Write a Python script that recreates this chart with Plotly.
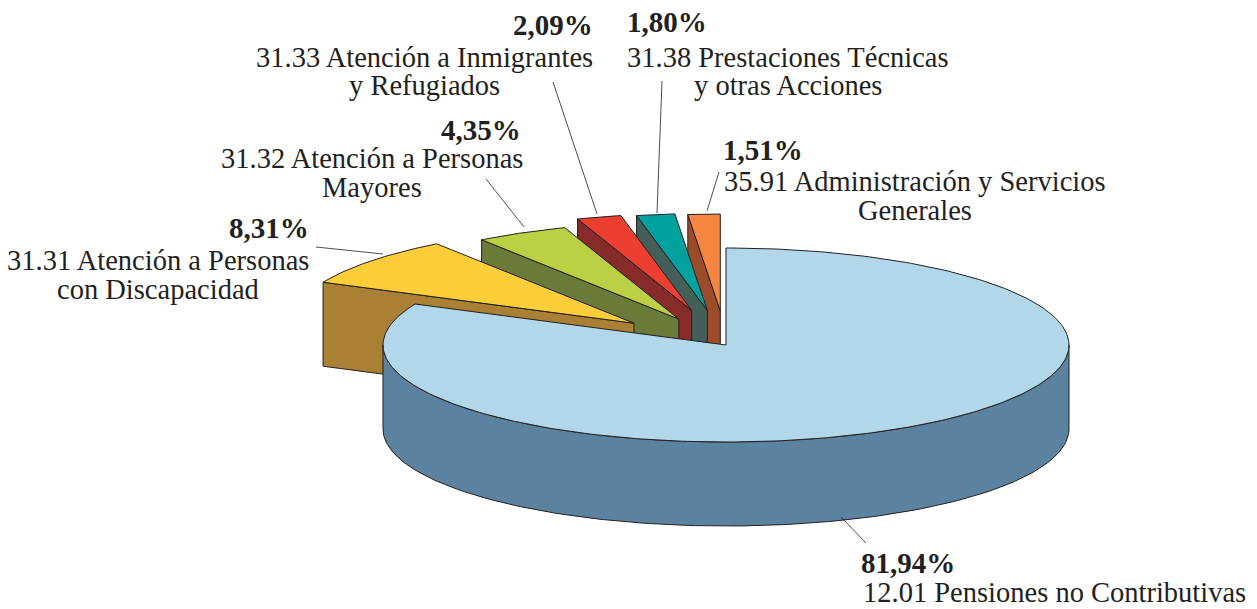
import numpy as np
import plotly.graph_objects as go

# ---- data ----
categories = ["12.01 Pensiones no Contributivas", "31.31 Atención a Personas con Discapacidad",
              "31.32 Atención a Personas Mayores", "31.33 Atención a Inmigrantes y Refugiados",
              "31.38 Prestaciones Técnicas y otras Acciones", "35.91 Administración y Servicios Generales"]
values = [81.94, 8.31, 4.35, 2.09, 1.80, 1.51]
top_colors = ["#B3D7EA", "#FDCD3A", "#BBD043", "#EC3E31", "#00A19E", "#F58642"]
side_colors = ["#5B829F", "#AA8134", "#6A7B39", "#872B2A", "#445F57", "#9C4B2B"]
label_lines = [["12.01 Pensiones no Contributivas"],
               ["31.31 Atención a Personas", "con Discapacidad"],
               ["31.32 Atención a Personas", "Mayores"],
               ["31.33 Atención a Inmigrantes", "y Refugiados"],
               ["31.38 Prestaciones Técnicas", "y otras Acciones"],
               ["35.91 Administración y Servicios", "Generales"]]

# ---- pie projection ----
CX, CY, RX, RY, DEPTH = 726, 345, 343, 97, 84
explode = [0.0, 0.35, 0.30, 0.37, 0.36, 0.35]
W, H = 1257, 609
EDGE = "#231F20"
FONT = "Liberation Serif"
TEXT = "#231F20"

# label layout: (centre x, centre y) of the percentage, then of each text line
pct_pos = [(908, 563), (269, 228), (481, 130), (553, 25), (667, 22), (763, 150)]
line_pos = [[(1054, 592)], [(158, 260), (158, 289)], [(372, 158), (372, 187)],
            [(424, 57), (424, 85)], [(788, 57), (788, 85)], [(915, 181), (915, 210)]]
leaders = [((841, 517), (866, 543)), ((316, 247), (383, 254)), ((486, 179), (524, 227)),
           ((553, 82), (597, 214)), ((662, 81), (657, 213)), ((719, 172), (707, 211))]


def point(theta, ox=0.0, oy=0.0):
    """Project an angle (degrees clockwise from 12 o'clock) on the pie ellipse."""
    t = np.radians(theta)
    return CX + ox + RX * np.sin(t), CY + oy - RY * np.cos(t)


def poly(xs, ys, fill):
    return go.Scatter(x=list(xs), y=list(ys), mode="lines", fill="toself", fillcolor=fill,
                      line=dict(color=EDGE, width=1), hoverinfo="skip", showlegend=False)


edges = np.concatenate([[0], np.cumsum(values) / sum(values) * 360])
fig = go.Figure()

# exploded slices, back to front
for i in range(len(values) - 1, 0, -1):
    a0, a1 = edges[i], edges[i + 1]
    mid = np.radians((a0 + a1) / 2)
    ox, oy = explode[i] * RX * np.sin(mid), -explode[i] * RY * np.cos(mid)
    ax, ay = CX + ox, CY + oy
    sx, sy = point(a0, ox, oy)
    fig.add_trace(poly([ax, sx, sx, ax, ax], [ay, sy, sy + DEPTH, ay + DEPTH, ay], side_colors[i]))
    arc = np.linspace(a0, a1, 40)
    px, py = point(arc, ox, oy)
    fig.add_trace(poly(np.r_[ax, px, ax], np.r_[ay, py, ay], top_colors[i]))

# main slice: wall and top
wall = np.linspace(90, 270, 160)
wx, wy = point(wall)
fig.add_trace(poly(np.r_[wx, wx[::-1], wx[0]], np.r_[wy, wy[::-1] + DEPTH, wy[0]], side_colors[0]))
arc = np.linspace(edges[0], edges[1], 300)
px, py = point(arc)
fig.add_trace(poly(np.r_[CX, px, CX], np.r_[CY, py, CY], top_colors[0]))

# leader lines
for (p, q) in leaders:
    fig.add_trace(go.Scatter(x=[p[0], q[0]], y=[p[1], q[1]], mode="lines",
                             line=dict(color=EDGE, width=0.8), hoverinfo="skip", showlegend=False))

# text
for v, pp, lines, lp in zip(values, pct_pos, label_lines, line_pos):
    fig.add_annotation(x=pp[0], y=pp[1], text=f"<b>{v:.2f}%</b>".replace(".", ","), showarrow=False,
                       font=dict(family=FONT, size=29, color=TEXT), xanchor="center", yanchor="middle")
    for s, q in zip(lines, lp):
        fig.add_annotation(x=q[0], y=q[1], text=s, showarrow=False,
                           font=dict(family=FONT, size=28.5, color=TEXT), xanchor="center", yanchor="middle")

fig.update_layout(width=W, height=H, margin=dict(l=0, r=0, t=0, b=0), paper_bgcolor="white",
                  plot_bgcolor="white", showlegend=False,
                  xaxis=dict(range=[0, W], visible=False, fixedrange=True),
                  yaxis=dict(range=[H, 0], visible=False, fixedrange=True))
fig.write_html("out.html", config=dict(displayModeBar=False),
               post_script="document.body.style.margin='0';document.documentElement.style.overflow='hidden';")
